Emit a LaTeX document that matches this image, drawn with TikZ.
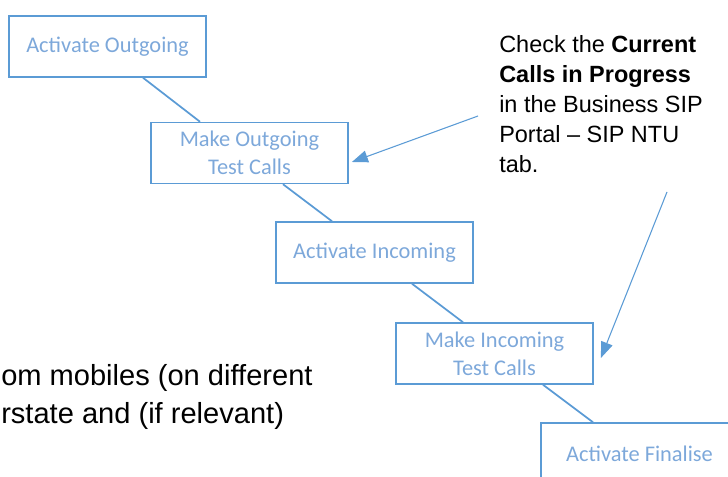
\documentclass[tikz,border=0pt]{standalone}
\usepackage{fontspec}
\setmainfont{Liberation Sans}
\newfontfamily\boxfont{Carlito}
\usepackage{xcolor}
\usetikzlibrary{arrows.meta,calc}

\definecolor{stepblue}{RGB}{91,155,213}
\definecolor{steptext}{RGB}{125,168,218}

\tikzset{
  stepbox/.style={draw=stepblue,line width=1.1pt,minimum width=148pt,minimum height=45.75pt,
    inner sep=0pt,align=center,text=steptext,font=\boxfont\fontsize{16.8}{21}\selectfont},
  link/.style={draw=stepblue,line width=1.3pt},
  pointer/.style={draw=stepblue,line width=0.8pt,-{Triangle[length=12pt,width=9pt]}}
}

\begin{document}
\begin{tikzpicture}[x=0.75pt,y=-0.75pt]
\useasboundingbox (0,0) rectangle (728,477);
\clip (0,0) rectangle (728,477);
% process steps, top left to bottom right
\foreach \n/\x/\y/\txt in {b1/107.5/46.5/{Activate Outgoing},b2/249.5/153/{Make Outgoing\\Test Calls},
  b3/374.5/252.5/{Activate Incoming},b4/494.5/353.5/{Make Incoming\\Test Calls},b5/639.5/453.5/{Activate Finalise}}{
  \node[stepbox] (\n) at (\x,\y) {\txt};
}
% links between steps
\foreach \a/\b/\da/\db in {b1/b2/35.5/-49.5,b2/b3/33.5/-42.5,b3/b4/37.5/-31.5,b4/b5/48.5/-46.5}{
  \draw[link] ($(\a.south)+(\da,0)$) -- ($(\b.north)+(\db,0)$);
}
% callout with its two pointers (base = last line)
\node[font=\fontsize{17.6}{22.5}\selectfont,align=left,anchor=base west,inner sep=0pt] (note) at (499,173)
  {Check the \textbf{Current}\\\textbf{Calls in Progress}\\in the Business SIP\\Portal – SIP NTU\\tab.};
\coordinate (n1) at (478,116);
\coordinate (n2) at (667,192);
\draw[pointer] (n1) -- ($(b2.east)+(3,9)$);
\draw[pointer] (n2) -- ($(b4.east)+(7,4.5)$);
% text cut off at the left edge
\node[font=\fontsize{21.8}{28.5}\selectfont,align=left,anchor=base west,inner sep=0pt] (steps) at (1,423)
  {om mobiles (on different\\rstate and (if relevant)};
\end{tikzpicture}
\end{document}
